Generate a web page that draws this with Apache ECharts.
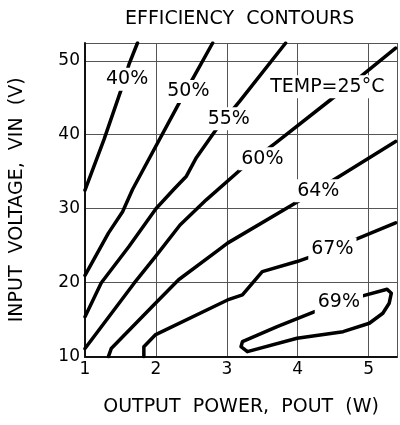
<!DOCTYPE html>
<html><head><meta charset="utf-8">
<script src="https://cdn.jsdelivr.net/npm/echarts@6/dist/echarts.min.js"></script>
<style>html,body{margin:0;padding:0;background:#fff}#c{width:400px;height:425px}</style>
</head><body><div id="c"></div>
<script>
const xTicks = [1, 2, 3, 4, 5];
const yTicks = [10, 20, 30, 40, 50];
const eff40 = [[1,32.5],[1.27,39.4],[1.51,46.1],[1.62,49.5],[1.74,52.4]];
const eff50 = [[1,21.0],[1.33,26.7],[1.53,29.6],[1.67,32.6],[2.34,44.5],[2.55,48.1],[2.8,52.4]];
const eff55 = [[1,15.4],[1.23,20.0],[1.62,24.9],[2.0,30.0],[2.25,32.6],[2.43,34.4],[2.57,36.9],[2.85,40.7],[3.18,44.5],[3.83,52.4]];
const eff60 = [[1,11.1],[1.69,19.9],[1.99,23.5],[2.34,27.8],[2.71,31.2],[3.22,35.5],[3.69,38.9],[4.5,45.0],[4.89,47.9],[5.38,51.7]];
const eff64 = [[1.33,10],[1.37,11.1],[1.99,17.2],[2.32,20.4],[2.88,24.4],[3.01,25.35],[4.01,31.0],[4.59,34.4],[5.38,39.1]];
const eff67 = [[1.83,10],[1.83,11.35],[1.99,12.94],[3.01,17.67],[3.22,18.35],[3.5,21.5],[3.99,22.86],[4.17,23.45],[4.8,25.8],[5.38,28.1]];
const eff69 = [[4.89,18.16],[5.26,19.12],[5.32,18.58],[5.29,17.23],[5.2,15.87],[5.01,14.52],[4.64,13.38],[3.99,12.49],[3.29,10.68],[3.2,11.35],[3.22,12.03],[3.71,14.06],[4.24,16.09],[4.89,18.16]];
const labelNames = ['40%','50%','55%','60%','64%','67%','69%','TEMP=25°C'];
const labelX = [1.594, 2.457, 3.028, 3.501, 4.29, 4.489, 4.58, 4.417];
const labelY = [47.51, 45.86, 42.17, 36.75, 32.42, 24.57, 17.33, 46.47];

const FONT = 'DejaVu Sans';
const curves = [eff40, eff50, eff55, eff60, eff64, eff67, eff69];
const chart = echarts.init(document.getElementById('c'), null, {renderer:'canvas'});
const series = curves.map(d => ({
  type:'line', data:d, symbol:'none', z:3, clip:true,
  lineStyle:{color:'#000', width:3.5, cap:'round', join:'round'}
}));
series.push({
  type:'scatter', z:10, symbolSize:0.1, itemStyle:{color:'#fff', opacity:1},
  emphasis:{disabled:true},
  data: labelNames.map((n,i)=>({name:n, value:[labelX[i], labelY[i]]})),
  label:{show:true, position:'inside', formatter:'{b}', color:'#000', opacity:1, fontFamily:FONT, fontSize:19,
    backgroundColor:'#fff', padding:[2,3]}
});
chart.setOption({
  animation:false,
  backgroundColor:'#fff',
  title:{text:'EFFICIENCY  CONTOURS', left:120, top:5,
    textStyle:{fontFamily:FONT, fontSize:19, fontWeight:'normal', color:'#000'}},
  grid:{left:85, top:43, width:316, height:313.7},
  xAxis:{type:'value', min:1, max:5.4, interval:1,
    name:'OUTPUT  POWER,  POUT  (W)', nameLocation:'middle', nameGap:41,
    nameTextStyle:{fontFamily:FONT, fontSize:19, color:'#000'},
    axisLine:{show:true, lineStyle:{color:'#111', width:2}},
    axisTick:{show:false},
    axisLabel:{margin:4, fontFamily:FONT, fontSize:17, color:'#000',
      formatter:v=>xTicks.includes(v)?String(v):''},
    splitLine:{show:true, lineStyle:{color:'#555', width:1}}},
  yAxis:{type:'value', min:10, max:52.4, interval:10,
    name:'INPUT  VOLTAGE,  VIN  (V)', nameLocation:'middle', nameGap:58, nameRotate:90,
    nameTextStyle:{fontFamily:FONT, fontSize:19, color:'#000'},
    axisLine:{show:true, lineStyle:{color:'#111', width:2}},
    axisTick:{show:false},
    axisLabel:{margin:5, fontFamily:FONT, fontSize:17, color:'#000',
      formatter:v=>yTicks.includes(v)?String(v):''},
    splitLine:{show:true, lineStyle:{color:'#555', width:1}}},
  series
});
</script></body></html>
